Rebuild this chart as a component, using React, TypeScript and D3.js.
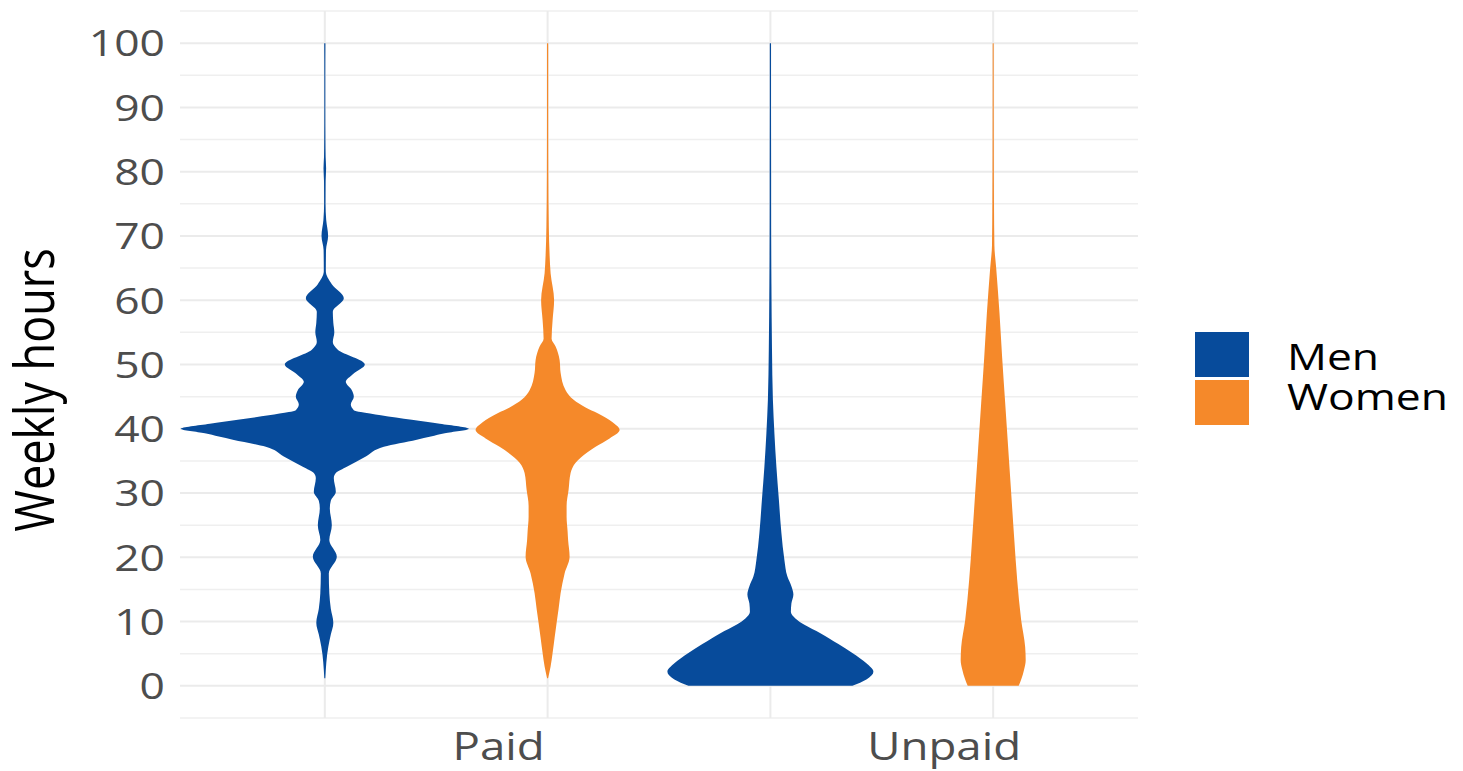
import React from "react";
import * as d3 from "d3";

// Weekly hours by type of work and gender: violin outlines given as
// [hours, relative half-width] pairs read along each distribution.
const categories = ["Paid", "Unpaid"];
const genders = ["Men", "Women"];
const yTicks = [0, 10, 20, 30, 40, 50, 60, 70, 80, 90, 100];

const menPaid: [number, number][] = [
  [100, 0.6], [95, 0.5], [90, 0.5], [85, 0.6], [82.3, 0.8], [80.5, 1.3], [78.5, 0.8],
  [75, 0.7], [72.5, 1.4], [70, 3.3], [67.8, 1.2], [64.5, 1], [62.5, 7], [60.3, 19],
  [58.2, 8], [56.5, 8.5], [55, 9.5], [53.5, 8], [52.3, 13], [50, 40], [48.5, 28],
  [47.3, 21], [46, 27], [45, 29], [43.8, 26], [42.9, 29], [42.6, 36], [42.1, 56],
  [41.4, 87], [40.8, 115], [40, 144], [39.3, 120], [38.8, 106], [38.3, 92], [37.2, 59],
  [35.7, 41], [34.1, 22], [33.1, 11], [32.3, 9], [30.2, 11], [28.8, 6], [27.6, 5],
  [25, 7], [22.7, 4.5], [20.1, 12], [17.5, 4], [14.4, 4.5], [12, 6], [9.8, 8.5],
  [8, 6], [6.1, 3.5], [1.2, 0.5],
];

const womenPaid: [number, number][] = [
  [100, 0.6], [90, 0.6], [80, 0.7], [71.4, 1.2], [67, 2], [64.2, 3], [60, 6.5],
  [56.9, 5], [54, 4], [52.8, 8], [50.7, 12], [48.7, 13], [46, 18], [44.5, 26],
  [43.3, 38], [42.4, 50], [41, 65], [39.8, 72], [38.5, 62], [37.2, 48], [35.5, 33],
  [34.7, 28], [33.1, 23], [30.5, 21], [28, 19], [26.3, 19], [24, 20], [22.7, 20.5],
  [20.1, 22], [17.5, 17], [14.4, 13], [12, 11], [9.8, 9], [7.5, 7], [5.1, 5],
  [3, 3], [1.2, 0.5],
];

const menUnpaid: [number, number][] = [
  [100, 0.6], [90, 0.6], [80, 0.7], [75.6, 0.7], [62.6, 1], [52.3, 1.6], [44.5, 2.5],
  [39.3, 4], [34.1, 6], [28.9, 8.5], [23.8, 11], [19.6, 14], [17, 17], [15.5, 21],
  [14.2, 23], [12.8, 21], [11.5, 20.5], [10.5, 25], [9.5, 34], [8.2, 50], [6.5, 68],
  [5.1, 82], [3.5, 96], [2.2, 103], [1, 96], [0, 82],
];

const womenUnpaid: [number, number][] = [
  [100, 0.5], [85, 0.6], [75, 0.8], [68.5, 1.2], [65, 3], [58, 6.3], [51, 9],
  [44, 12], [37, 15], [30, 18], [23, 21], [16.5, 24], [10.2, 28], [6, 32],
  [4, 32.5], [2.6, 31], [1, 28], [0, 25.5],
];

const groups = [
  { category: "Paid", gender: "Men", profile: menPaid },
  { category: "Paid", gender: "Women", profile: womenPaid },
  { category: "Unpaid", gender: "Men", profile: menUnpaid },
  { category: "Unpaid", gender: "Women", profile: womenUnpaid },
];

const colors: Record<string, string> = { Men: "#074b9b", Women: "#f5892a" };

const W = 1463;
const H = 771;
const FONT = "'Open Sans', 'DejaVu Sans', sans-serif";
const SX = 1.2; // horizontal text stretch

export default function App() {
  const x = d3.scaleLinear().domain([-0.65, 3.65]).range([180, 1138]);
  const y = d3.scaleLinear().domain([-5, 105]).range([718, 11]);
  const maxW = d3.max(groups.flatMap((g) => g.profile.map((p) => p[1]))) as number;
  const halfW = d3.scaleLinear().domain([0, maxW]).range([0, 144]);

  const majors = yTicks;
  const minors = d3.range(-5, 106, 10);

  const groupIndex = (cat: string, gender: string) =>
    categories.indexOf(cat) * 2 + genders.indexOf(gender);

  return (
    <svg
      width={W}
      height={H}
      style={{ position: "absolute", left: 0, top: 0, display: "block", background: "#fff" }}
      fontFamily={FONT}
    >
      {/* grid */}
      <g>
        {minors.map((v) => (
          <line key={"mi" + v} x1={180} x2={1138} y1={y(v)} y2={y(v)} stroke="#efefef" strokeWidth={1.5} />
        ))}
        {majors.map((v) => (
          <line key={"ma" + v} x1={180} x2={1138} y1={y(v)} y2={y(v)} stroke="#ebebeb" strokeWidth={2} />
        ))}
        {groups.map((g) => {
          const cx = x(groupIndex(g.category, g.gender));
          return (
            <line key={"v" + g.category + g.gender} x1={cx} x2={cx} y1={y(105)} y2={y(-5)} stroke="#ebebeb" strokeWidth={2} />
          );
        })}
      </g>

      {/* violins */}
      <g>
        {groups.map((g) => {
          const cx = x(groupIndex(g.category, g.gender));
          const area = d3
            .area<[number, number]>()
            .y((d) => y(d[0]))
            .x0((d) => cx - halfW(d[1]))
            .x1((d) => cx + halfW(d[1]))
            .curve(d3.curveMonotoneY);
          const pts = [...g.profile].sort((a, b) => a[0] - b[0]);
          return <path key={g.category + g.gender} d={area(pts) || ""} fill={colors[g.gender]} />;
        })}
      </g>

      {/* y axis labels */}
      <g fill="#4d4d4d" fontSize={37}>
        {yTicks.map((t) => (
          <text key={t} transform={`translate(165,${y(t)}) scale(${SX},1)`} textAnchor="end" dy="0.36em">
            {t}
          </text>
        ))}
      </g>

      {/* x axis labels */}
      <g fill="#4d4d4d" fontSize={38}>
        {categories.map((c) => (
          <text key={c} transform={`translate(${x(categories.indexOf(c) * 2 + 0.78)},760) scale(${SX},1)`} textAnchor="middle">
            {c}
          </text>
        ))}
      </g>

      {/* y axis title */}
      <text
        transform={`translate(54,390) scale(${SX},1) rotate(-90)`}
        textAnchor="middle"
        fontSize={45}
        fill="#000"
      >
        Weekly hours
      </text>

      {/* legend */}
      <g>
        {genders.map((gname, i) => (
          <g key={gname}>
            <rect x={1195} y={332 + i * 48} width={54} height={45} fill={colors[gname]} />
            <text transform={`translate(1287,${370 + i * 40}) scale(${SX},1)`} fontSize={37} fill="#000">
              {gname}
            </text>
          </g>
        ))}
      </g>
    </svg>
  );
}
